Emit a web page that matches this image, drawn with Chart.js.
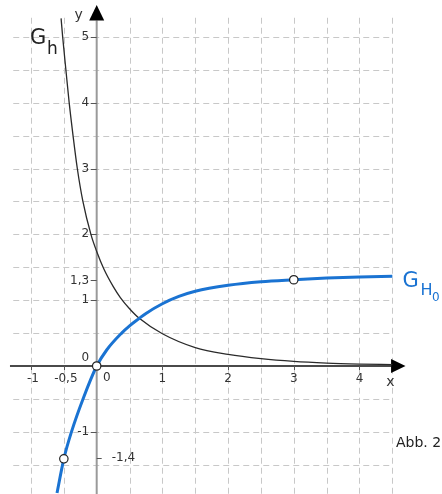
<!DOCTYPE html>
<html>
<head>
<meta charset="utf-8">
<script src="https://cdn.jsdelivr.net/npm/chart.js@4"></script>
<style>
    html, body { margin: 0; padding: 0; background: #fff; }
    #box { width: 442px; height: 494px; }
</style>
</head>
<body>
<div id="box"><canvas id="chart" width="442" height="494"></canvas></div>
<script>
// G_h (black curve)
const hX = [-0.542, -0.518, -0.469, -0.419, -0.36, -0.295, -0.21, -0.088, 0, 0.111, 0.25, 0.36, 0.5, 0.648, 1, 1.5, 2, 2.5, 3, 3.5, 4, 4.5]
const hY = [5.28, 5, 4.5, 4, 3.5, 3, 2.5, 2, 1.74, 1.47, 1.21, 1.04, 0.87, 0.724, 0.49, 0.28, 0.177, 0.112, 0.07, 0.045, 0.03, 0.02]

// G_H0 (blue curve)
const H0X = [-0.604, -0.5, -0.384, -0.208, 0, 0.152, 0.38, 0.5, 0.648, 0.75, 1, 1.25, 1.5, 2, 2.5, 3, 3.5, 4, 4.5]
const H0Y = [-1.93, -1.41, -1, -0.5, 0, 0.243, 0.5, 0.61, 0.724, 0.799, 0.946, 1.057, 1.136, 1.226, 1.28, 1.31, 1.335, 1.352, 1.365]

// marked points (open circles)
const markX = [-0.5, 0, 3]
const markY = [-1.41, 0, 1.31]

// ticks and grid
const xTickValues = [-1, -0.5, 1, 2, 3, 4]
const xTickLabels = ['-1', '-0,5', '1', '2', '3', '4']
const yTickValues = [5, 4, 3, 2, 1.3, 1, -1, -1.4]
const yTickLabels = ['5', '4', '3', '2', '1,3', '1', '-1', '-1,4']
const xGrid = [-1, -0.5, 0.5, 1, 1.5, 2, 2.5, 3, 3.5, 4, 4.5]
const yGrid = [-1.5, -1, -0.5, 0.5, 1, 1.5, 2, 2.5, 3, 3.5, 4, 4.5, 5]

const FONT = '"DejaVu Sans", Verdana, sans-serif'
const BLUE = '#1a73d2'

function toPoints(xs, ys) {
    return xs.map((x, i) => ({ x: x, y: ys[i] }))
}

function line(ctx, x1, y1, x2, y2) {
    ctx.beginPath()
    ctx.moveTo(x1, y1)
    ctx.lineTo(x2, y2)
    ctx.stroke()
}

const axesPlugin = {
    id: 'axes',
    beforeDatasetsDraw(chart) {
        const ctx = chart.ctx
        const X = v => chart.scales.x.getPixelForValue(v)
        const Y = v => chart.scales.y.getPixelForValue(v)
        ctx.save()

        // dashed grid
        ctx.strokeStyle = '#c8c8c8'
        ctx.lineWidth = 1
        ctx.setLineDash([6, 4])
        xGrid.forEach(v => {
            const px = Math.round(X(v)) + 0.5
            line(ctx, px, Y(5.29), px, chart.height)
        })
        yGrid.forEach(v => {
            const py = Math.round(Y(v)) + 0.5
            line(ctx, X(-1.27), py, X(4.5), py)
        })
        ctx.setLineDash([])

        // axes
        const ox = X(0), oy = Y(0)
        ctx.lineWidth = 2
        ctx.strokeStyle = '#9a9a9a'
        line(ctx, ox, chart.height, ox, Y(5.25))
        ctx.strokeStyle = '#4a4a4a'
        line(ctx, X(-1.32), oy, X(4.48), oy)

        // arrow heads
        ctx.fillStyle = '#000'
        ctx.beginPath()
        ctx.moveTo(ox, Y(5.485))
        ctx.lineTo(ox - 7.5, Y(5.25))
        ctx.lineTo(ox + 7.5, Y(5.25))
        ctx.closePath()
        ctx.fill()
        ctx.beginPath()
        ctx.moveTo(X(4.70), oy)
        ctx.lineTo(X(4.48), oy - 7)
        ctx.lineTo(X(4.48), oy + 7)
        ctx.closePath()
        ctx.fill()

        // tick marks
        ctx.strokeStyle = '#555'
        ctx.lineWidth = 1
        xTickValues.forEach(v => {
            const px = Math.round(X(v)) + 0.5
            line(ctx, px, oy, px, oy + 4)
        })
        yTickValues.forEach((v, i) => {
            const py = Math.round(Y(v)) + 0.5
            if (yTickLabels[i] === '-1,4') line(ctx, ox, py, ox + 5, py)
            else line(ctx, ox - 6, py, ox, py)
        })
        ctx.restore()
    },
    afterDatasetsDraw(chart) {
        const ctx = chart.ctx
        const X = v => chart.scales.x.getPixelForValue(v)
        const Y = v => chart.scales.y.getPixelForValue(v)
        const ox = X(0), oy = Y(0)
        ctx.save()

        // tick labels
        ctx.fillStyle = '#333'
        ctx.font = '12px ' + FONT
        ctx.textBaseline = 'middle'
        ctx.textAlign = 'center'
        xTickValues.forEach((v, i) => {
            const shift = xTickLabels[i].startsWith('-') ? 2 : 0
            ctx.fillText(xTickLabels[i], X(v) + shift, oy + 13)
        })
        ctx.fillText('0', ox + 10, oy + 12)
        yTickValues.forEach((v, i) => {
            if (yTickLabels[i] === '-1,4') {
                ctx.textAlign = 'left'
                ctx.fillText(yTickLabels[i], ox + 15, Y(v))
            } else {
                ctx.textAlign = 'right'
                ctx.fillText(yTickLabels[i], ox - 7.5, Y(v))
            }
        })
        ctx.textAlign = 'right'
        ctx.fillText('0', ox - 7.5, oy - 8)

        // axis names
        ctx.textAlign = 'center'
        ctx.font = '14px ' + FONT
        ctx.fillText('y', ox - 18, 15)
        ctx.fillText('x', X(4.47), oy + 16)

        // function labels
        ctx.textAlign = 'left'
        ctx.textBaseline = 'alphabetic'
        ctx.fillStyle = '#222'
        ctx.font = '21px ' + FONT
        ctx.fillText('G', 30, 43.5)
        ctx.font = '17px ' + FONT
        ctx.fillText('h', 47, 53.5)

        ctx.fillStyle = BLUE
        ctx.font = '21px ' + FONT
        ctx.fillText('G', 402.5, 287)
        ctx.font = '16px ' + FONT
        ctx.fillText('H', 420.5, 295)
        ctx.font = '12px ' + FONT
        ctx.fillText('0', 432, 300.5)

        ctx.fillStyle = '#222'
        ctx.font = '14px ' + FONT
        ctx.fillText('Abb. 2', 396, 447)
        ctx.restore()
    }
}

function drawChart() {
    const ctx = document.getElementById('chart').getContext('2d')
    new Chart(ctx, {
        type: 'scatter',
        data: {
            datasets: [
                {
                    data: toPoints(markX, markY),
                    showLine: false,
                    pointRadius: 4.2,
                    pointBackgroundColor: '#fff',
                    pointBorderColor: '#222',
                    pointBorderWidth: 1.2
                },
                {
                    data: toPoints(H0X, H0Y),
                    showLine: true,
                    borderColor: BLUE,
                    borderWidth: 3,
                    pointRadius: 0,
                    cubicInterpolationMode: 'monotone'
                },
                {
                    data: toPoints(hX, hY),
                    showLine: true,
                    borderColor: '#2a2a2a',
                    borderWidth: 1.3,
                    pointRadius: 0,
                    cubicInterpolationMode: 'monotone'
                }
            ]
        },
        options: {
            responsive: false,
            devicePixelRatio: 1,
            animation: false,
            events: [],
            layout: { padding: 0, autoPadding: false },
            scales: {
                x: { type: 'linear', min: -1.4718, max: 5.2557, display: false },
                y: { type: 'linear', min: -1.9444, max: 5.5598, display: false }
            },
            plugins: {
                legend: { display: false },
                tooltip: { enabled: false }
            }
        },
        plugins: [axesPlugin]
    })
}

drawChart()
</script>
</body>
</html>
